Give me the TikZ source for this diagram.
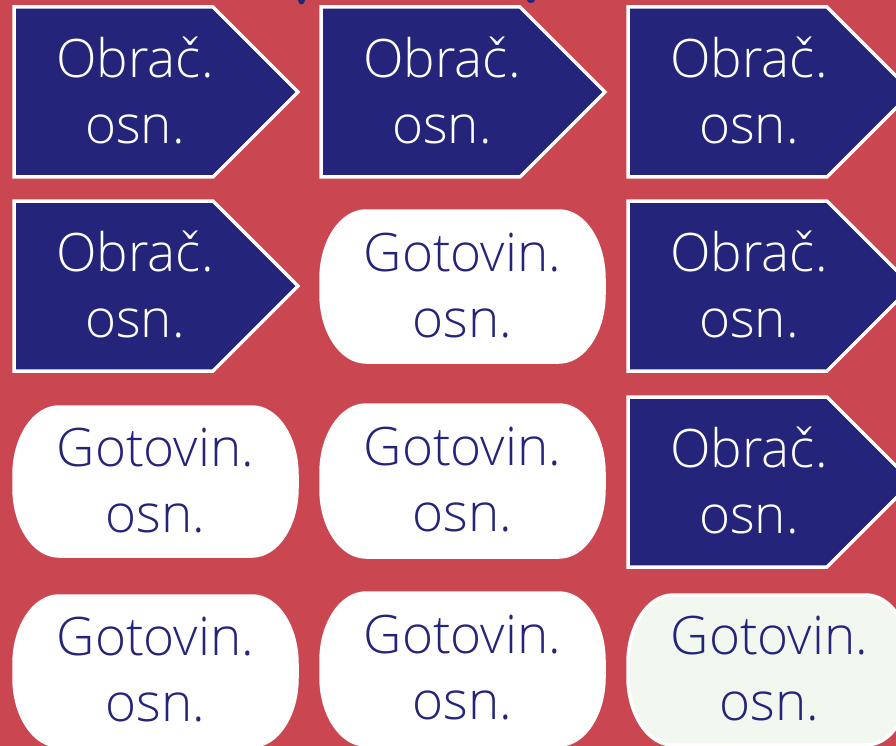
\documentclass[tikz,border=0pt]{standalone}
\usepackage{fontspec}
\setmainfont{Open Sans Light}
\definecolor{bg}{HTML}{CA4650}
\definecolor{navy}{HTML}{24247A}
\definecolor{mint}{HTML}{F2F7F0}
\tikzset{
  arrowshape/.style={fill=navy, draw=white, line width=3.5pt, line join=miter},
  pillshape/.style={draw=white, line width=3.5pt},
  lbl/.style={align=center, font=\fontsize{53}{66}\selectfont, inner sep=0pt},
}
\newcommand\arrowbox[3]{%
  \draw[arrowshape] (#2,#3) -- ++(199,0) -- ++(85,85) -- ++(-85,85) -- ++(-199,0) -- cycle;
  \node[lbl,text=white] (#1) at (#2+121,#3+83) {Obrač.\\osn.};}
\newcommand\pill[5]{%
  \draw[pillshape, fill=#5] (#2+45,#3) -- (#2+238,#3)
    arc[start angle=-90, end angle=0, x radius=45, y radius=68]
    -- (#2+283,#4-68)
    arc[start angle=0, end angle=90, x radius=45, y radius=68]
    -- (#2+45,#4)
    arc[start angle=90, end angle=180, x radius=45, y radius=68]
    -- (#2,#3+68)
    arc[start angle=180, end angle=270, x radius=45, y radius=68] -- cycle;
  \node[lbl,text=navy] (#1) at (#2+141.5,{(#3+#4)/2-1}) {Gotovin.\\osn.};}
\begin{document}
\begin{tikzpicture}[x=1pt,y=-1pt]
\fill[bg] (0,0) rectangle (896,746);
\useasboundingbox (0,0) rectangle (896,746);
% fragments of cut-off title
\fill[navy] (301.5,0) ellipse[x radius=3.5, y radius=4.5];
\fill[navy] (531,0) ellipse[x radius=4, y radius=3];
% row 1
\arrowbox{a11}{14}{7}
\arrowbox{a12}{321}{7}
\arrowbox{a13}{628}{7}
% row 2
\arrowbox{a21}{14}{201}
\pill{p22}{321}{211}{362}{white}
\arrowbox{a23}{628}{201}
% row 3
\pill{p31}{14}{407}{556}{white}
\pill{p32}{321}{405}{557}{white}
\arrowbox{a33}{628}{397}
% row 4
\pill{p41}{14}{596}{746}{white}
\pill{p42}{321}{593}{745}{white}
\pill{p43}{628}{595}{745}{mint}
\end{tikzpicture}
\end{document}
